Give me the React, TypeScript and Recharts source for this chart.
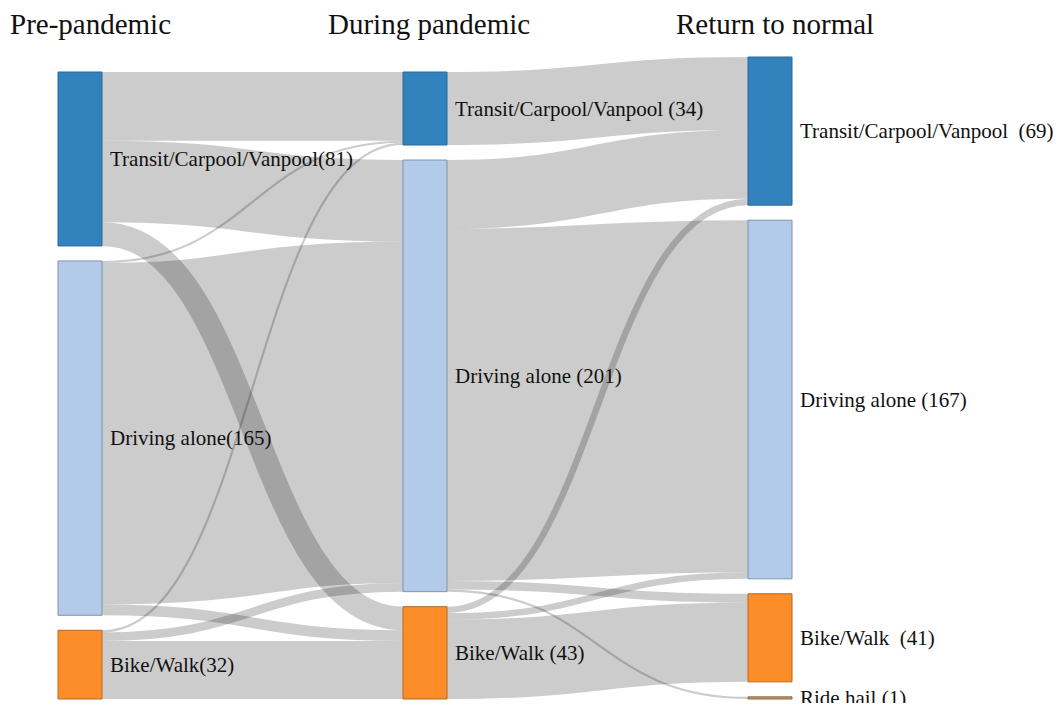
import React from 'react';
import { Sankey, Rectangle } from 'recharts';

// stages (columns)
const stageTitles = ['Pre-pandemic', 'During pandemic', 'Return to normal'];
const stageTitleX = [2, 320, 668];

// nodes per stage: mode key + label as printed
const preModes = ['transit', 'driving', 'bike'];
const preLabels = ['Transit/Carpool/Vanpool(81)', 'Driving alone(165)', 'Bike/Walk(32)'];

const duringModes = ['transit', 'driving', 'bike'];
const duringLabels = ['Transit/Carpool/Vanpool (34)', 'Driving alone (201)', 'Bike/Walk (43)'];

const returnModes = ['transit', 'driving', 'bike', 'ridehail'];
const returnLabels = ['Transit/Carpool/Vanpool  (69)', 'Driving alone (167)', 'Bike/Walk  (41)', 'Ride hail (1)'];

// flows [from index, to index, respondents]
const preToDuring = [
  [0, 0, 32], [0, 1, 38], [0, 2, 11],
  [1, 0, 1], [1, 1, 159], [1, 2, 5],
  [2, 0, 1], [2, 1, 4], [2, 2, 27],
];
const duringToReturn = [
  [0, 0, 34],
  [1, 0, 32], [1, 1, 164], [1, 2, 4], [1, 3, 1],
  [2, 0, 3], [2, 1, 3], [2, 2, 37],
];

const modeColors: Record<string, string> = {
  transit: '#3182bd',
  driving: '#b3cbe8',
  bike: '#fd8d28',
  ridehail: '#c49a6c',
};
const modeStroke: Record<string, string> = {
  transit: '#2a6a9a',
  driving: '#7f94ad',
  bike: '#b36a20',
  ridehail: '#8a6a48',
};

const nodes = [
  ...preModes.map((m, i) => ({ name: preLabels[i], mode: m })),
  ...duringModes.map((m, i) => ({ name: duringLabels[i], mode: m })),
  ...returnModes.map((m, i) => ({ name: returnLabels[i], mode: m })),
];
const off1 = preModes.length;
const off2 = off1 + duringModes.length;
const links = [
  ...preToDuring.map(([s, t, v]) => ({ source: s, target: off1 + t, value: v })),
  ...duringToReturn.map(([s, t, v]) => ({ source: off1 + s, target: off2 + t, value: v })),
];

const font = '"Liberation Serif", "Times New Roman", serif';

const ModeNode = (props: any) => {
  const { x, y, width, height, payload } = props;
  const mode = payload.mode;
  return (
    <g>
      <Rectangle
        x={x}
        y={y}
        width={width}
        height={Math.max(height, 1)}
        fill={modeColors[mode]}
        stroke={modeStroke[mode]}
        strokeWidth={1}
      />
      <text
        x={x + width + 8}
        y={y + height / 2}
        dy="0.35em"
        fontFamily={font}
        fontSize={21}
        fill="#111"
        style={{ whiteSpace: 'pre' }}
      >
        {payload.name}
      </text>
    </g>
  );
};

export default function App() {
  return (
    <div style={{ position: 'relative', width: 1053, height: 703, marginBottom: -8 }}>
      {stageTitles.map((t, i) => (
        <div
          key={t}
          style={{
            position: 'absolute',
            left: stageTitleX[i],
            top: 0,
            fontFamily: font,
            fontSize: 29,
            lineHeight: '32px',
            color: '#111',
          }}
        >
          {t}
        </div>
      ))}
      <div style={{ position: 'absolute', left: 0, top: 0 }}>
        <Sankey
          width={1053}
          height={703}
          data={{ nodes, links }}
          nodeWidth={44}
          nodePadding={15}
          linkCurvature={0.5}
          iterations={32}
          sort={false}
          margin={{ top: 49, right: 269, bottom: 12, left: 50 }}
          node={<ModeNode />}
          link={{ stroke: '#000', strokeOpacity: 0.2 }}
        />
      </div>
    </div>
  );
}
